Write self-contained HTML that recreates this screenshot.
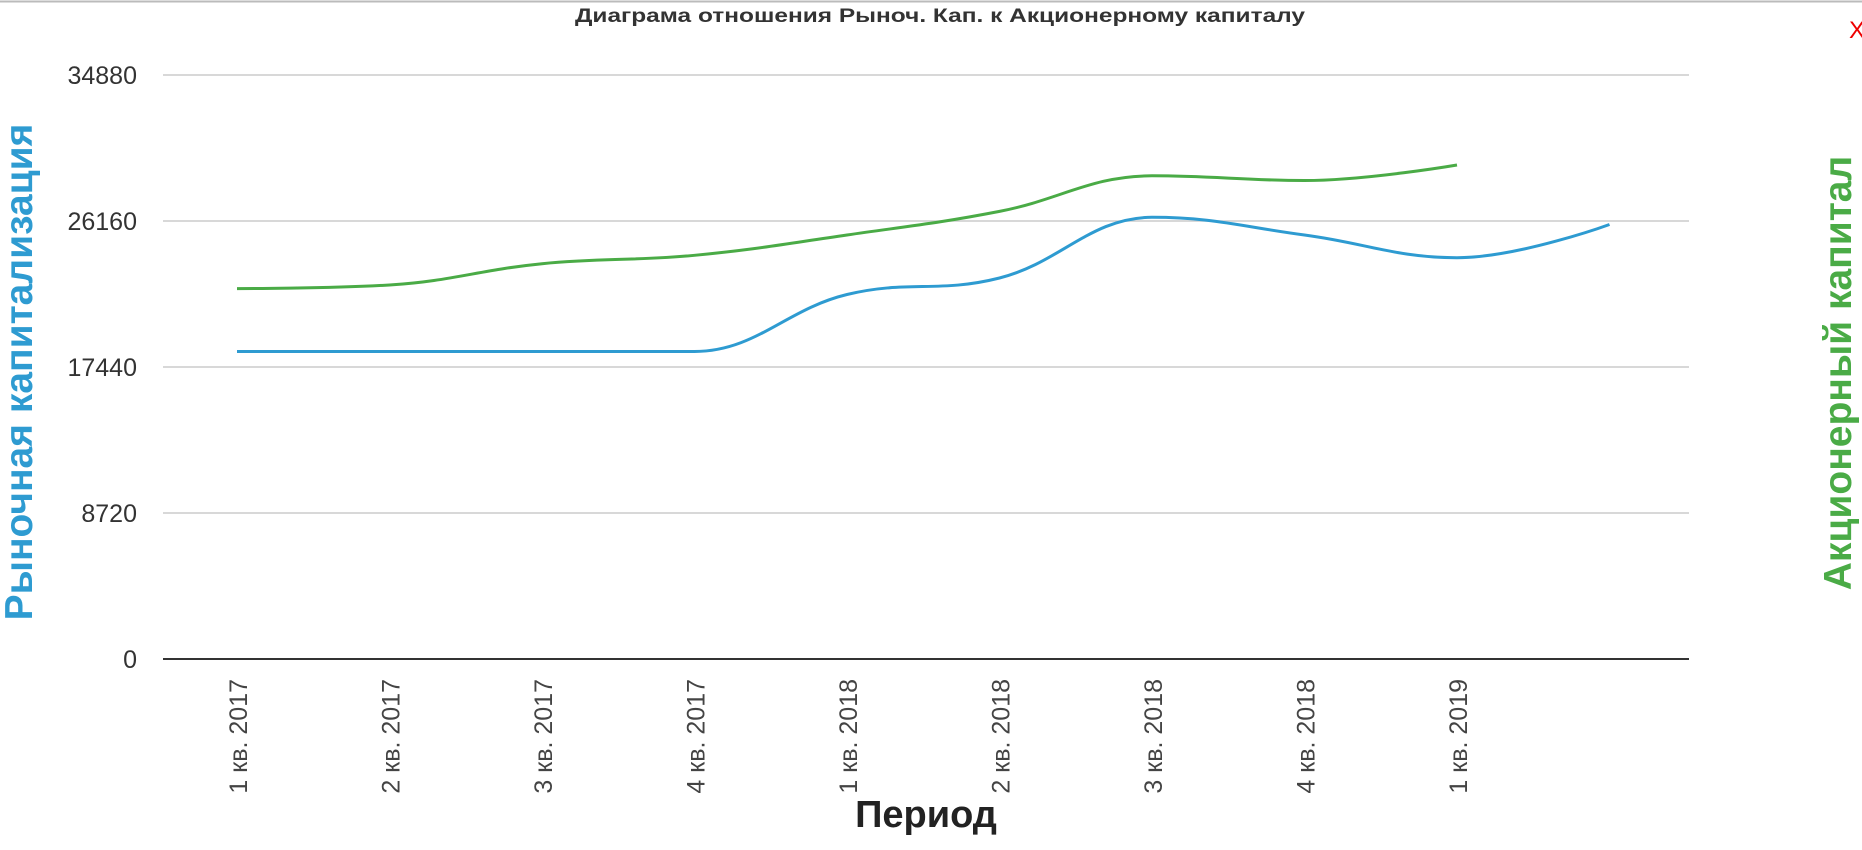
<!DOCTYPE html>
<html><head><meta charset="utf-8"><style>
body{margin:0;background:#fff;}
svg{display:block;font-family:"Liberation Sans",sans-serif;}
</style></head><body>
<svg id="chart" width="1862" height="850">
<line x1="0" y1="1.5" x2="1862" y2="1.5" stroke="#bbb" stroke-width="2"/>
<text x="940" y="22" text-anchor="middle" font-size="19" font-weight="bold" fill="#333" textLength="730" lengthAdjust="spacingAndGlyphs">Диаграма отношения Рыноч. Кап. к Акционерному капиталу</text>
<text x="1849" y="38" font-size="24" fill="#e00">X</text>
<g id="grid"></g>
<g id="xlabels"></g>
<g id="lines"></g>
<text transform="translate(32,372) rotate(-90)" text-anchor="middle" font-size="39" font-weight="bold" fill="#2e9bd1">Рыночная капитализация</text>
<text transform="translate(1851,373) rotate(-90)" text-anchor="middle" font-size="39" font-weight="bold" fill="#4aab46">Акционерный капитал</text>
<text x="926" y="827" text-anchor="middle" font-size="38" font-weight="bold" fill="#222">Период</text>
</svg>
<script>
const categories=["1 кв. 2017","2 кв. 2017","3 кв. 2017","4 кв. 2017","1 кв. 2018","2 кв. 2018","3 кв. 2018","4 кв. 2018","1 кв. 2019",""];
const marketCap=[18366,18366,18366,18366,21770,22756,26381,25325,23968,25952];
const equity=[22122,22337,23610,24111,25325,26733,28859,28579,29505];
const yTicks=[0,8720,17440,26160,34880];
const NS="http://www.w3.org/2000/svg";
const x0=237,dx=152.5,yTop=75,yBot=659,yMax=34880,plotL=163,plotR=1689;
const X=i=>x0+i*dx;
const Y=v=>yBot-(v/yMax)*(yBot-yTop);
function mk(tag,attrs,parent){const e=document.createElementNS(NS,tag);for(const k in attrs)e.setAttribute(k,attrs[k]);parent.appendChild(e);return e;}
const grid=document.getElementById('grid');
yTicks.forEach(t=>{
  const l=mk('line',{x1:plotL,x2:plotR,y1:Y(t),y2:Y(t),stroke:t===0?'#333':'#ccc','stroke-width':t===0?2:1.5},grid);
  
  
  const tx=mk('text',{x:137,y:Y(t)+9,'text-anchor':'end','font-size':25,fill:'#333'},grid);
  tx.textContent=t;
  
  
});
const xl=document.getElementById('xlabels');
categories.forEach((c,i)=>{
  if(!c)return;
  const t=mk('text',{transform:`translate(${X(i)+10},679) rotate(-90)`,'text-anchor':'end','font-size':25,fill:'#444'},xl);
  t.textContent=c;
  
  
});
function spline(pts){
  const n=pts.length,L=[],R=[];
  for(let i=0;i<n;i++){
    const [x,y]=pts[i];
    if(i===0||i===n-1){L[i]=[x,y];R[i]=[x,y];continue;}
    const [lx,ly]=pts[i-1],[nx,ny]=pts[i+1];
    let lcx=(1.5*x+lx)/2.5,lcy=(1.5*y+ly)/2.5,rcx=(1.5*x+nx)/2.5,rcy=(1.5*y+ny)/2.5;
    const corr=((rcy-lcy)*(rcx-x))/(rcx-lcx)+y-rcy;
    lcy+=corr;rcy+=corr;
    if(lcy>ly&&lcy>y){lcy=Math.max(ly,y);rcy=2*y-lcy;}
    else if(lcy<ly&&lcy<y){lcy=Math.min(ly,y);rcy=2*y-lcy;}
    if(rcy>ny&&rcy>y){rcy=Math.max(ny,y);lcy=2*y-rcy;}
    else if(rcy<ny&&rcy<y){rcy=Math.min(ny,y);lcy=2*y-rcy;}
    L[i]=[lcx,lcy];R[i]=[rcx,rcy];
  }
  let p=`M${pts[0][0]},${pts[0][1]}`;
  for(let i=1;i<n;i++)p+=`C${R[i-1][0]},${R[i-1][1]} ${L[i][0]},${L[i][1]} ${pts[i][0]},${pts[i][1]}`;
  return p;
}
const lines=document.getElementById('lines');
const g=mk('path',{d:spline(equity.map((v,i)=>[X(i),Y(v)])),fill:'none',stroke:'#4aab46','stroke-width':3},lines);


const b=mk('path',{d:spline(marketCap.map((v,i)=>[X(i),Y(v)])),fill:'none',stroke:'#2e9bd1','stroke-width':3},lines);


</script>
</body></html>
